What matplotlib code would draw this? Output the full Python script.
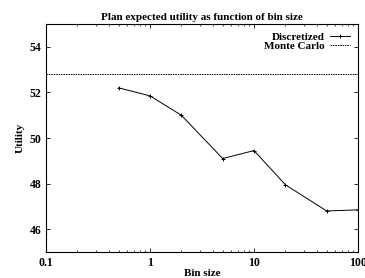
import matplotlib
matplotlib.use("Agg")
from matplotlib import pyplot as plt

# data
bin_size = [0.5, 1, 2, 5, 10, 20, 50, 100]
utility = [52.2, 51.85, 51.0, 49.1, 49.45, 47.95, 46.8, 46.85]
monte_carlo = 52.8

plt.rcParams['font.family'] = ['Liberation Serif', 'DejaVu Serif']
plt.rcParams['font.weight'] = 'bold'

fig = plt.figure(figsize=(3.65, 2.78), dpi=100)
ax = fig.add_axes([0.126, 0.0935, 0.855, 0.82])

ax.plot(bin_size, utility, color='black', lw=0.7, marker='+', ms=2.5,
        mew=0.7, label='Discretized')
ax.axhline(monte_carlo, color='black', lw=0.7, ls=(0, (1.5, 1)),
           label='Monte Carlo')

ax.set_xscale('log')
ax.set_xlim(0.1, 100)
ax.set_ylim(45, 55)
ax.set_xticks([0.1, 1, 10, 100])
ax.set_xticklabels(['0.1', '1', '10', '100'])
ax.set_yticks([46, 48, 50, 52, 54])
ax.tick_params(direction='in', top=True, right=True, labelsize=8.5,
               length=3, width=0.6)
ax.tick_params(which='minor', direction='in', top=True, right=True,
               length=1.5, width=0.5)
for s in ax.spines.values():
    s.set_linewidth(0.8)

ax.set_title('Plan expected utility as function of bin size', fontsize=8,
             fontweight='bold', pad=3)
ax.set_xlabel('Bin size', fontsize=8, fontweight='bold', labelpad=0)
ax.set_ylabel('Utility', fontsize=8, fontweight='bold', labelpad=3)

leg = ax.legend(loc='upper right', frameon=False, fontsize=8,
                markerfirst=False, handlelength=1.8, handletextpad=0.5,
                borderaxespad=0.3, labelspacing=0.0)

fig.savefig('out.png', dpi=100)
